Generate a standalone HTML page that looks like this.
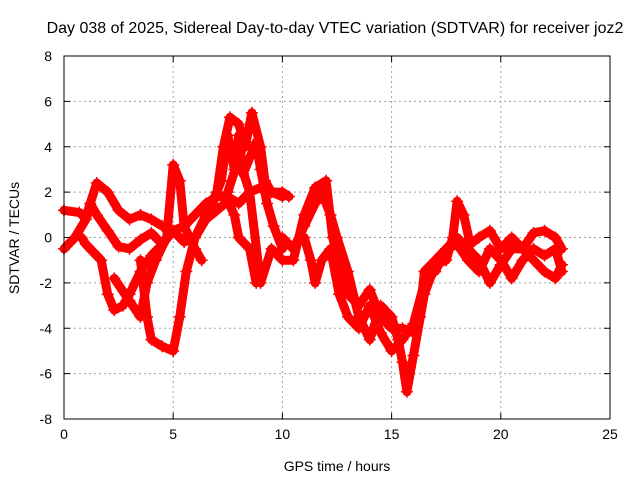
<!DOCTYPE html>
<html><head><meta charset="utf-8"><style>
body{margin:0;background:#fff}
svg{display:block;font-family:"Liberation Sans",sans-serif}
</style></head><body>
<svg id="chart" width="640" height="480">
<rect width="640" height="480" fill="#fff"/>
<text x="335" y="33" font-size="16" text-anchor="middle" fill="#000">Day 038 of 2025, Sidereal Day-to-day VTEC variation (SDTVAR) for receiver joz2</text>
<g id="grid"></g>
<g id="series"></g>
<rect x="64" y="56" width="546" height="363" fill="none" stroke="#000" stroke-width="1"/>
<g id="ticks"></g>
<text x="337" y="471" font-size="14" text-anchor="middle">GPS time / hours</text>
<text transform="translate(19,238) rotate(-90)" font-size="14" text-anchor="middle">SDTVAR / TECUs</text>
</svg>
<script>
const xTicks=[0,5,10,15,20,25];
const yTicks=[-8,-6,-4,-2,0,2,4,6,8];
const track1=[[0,-0.5],[0.5,0],[1,0.8],[1.2,1.5],[1.5,1],[2,0.3],[2.5,-0.4],[3,-0.5],[3.5,-0.1],[4,0.2],[4.5,-0.3],[5,0.3],[5.5,0.5],[6,1],[6.5,1.5],[7,1.8],[7.5,1.8],[8,1.5],[8.5,2],[9,2.2],[9.5,2],[10,1.8]];
const track2=[[0,1.2],[0.7,1.1],[1,0.9],[1.5,2.4],[2,2.0],[2.5,1.2],[3,0.8],[3.5,1],[4,0.8],[4.5,0.5],[5,0.3],[5.5,-0.2],[6,0],[6.5,0.8],[7,1.2],[7.5,1.6],[7.8,1.0],[8,0],[8.5,-0.5],[8.8,-2]];
const track3=[[3.5,-1],[3.8,-3.5],[4,-4.5],[4.5,-4.8],[5,-5],[5.3,-3.5],[5.6,-1.5],[6,0],[6.5,1],[7,2],[7.3,4],[7.6,5.3],[8,5],[8.3,4],[8.6,5.5],[9,4],[9.2,2.5],[9.5,2],[10,2],[10.3,1.8]];
const track4=[[0.8,0],[1,-0.3],[1.3,-0.6],[1.7,-1],[2,-2.5],[2.3,-3.2],[2.7,-3],[3,-2.5],[3.5,-1.5],[4,-0.8],[4.3,-0.5]];
const track5=[[2.3,-1.8],[3,-2.8],[3.5,-3.5],[3.8,-2],[4.2,-1],[4.7,0],[5,3.2],[5.3,2.5],[5.5,0.5],[6,-0.5],[6.3,-1]];
const track6=[[7.5,2],[8,3.5],[8.5,2],[9,-2],[9.5,-0.5],[10,-1],[10.5,-1],[11,1],[11.5,2.2],[12,2.5],[12.3,0],[12.7,-1.5],[13,-2.5],[13.5,-3],[14,-2.3],[14.5,-3.5],[15,-4],[15.5,-4],[16,-4.2],[16.3,-3.5],[16.5,-1.5],[17,-1],[17.5,-0.5],[18,0],[18.5,-0.5],[19,-1],[19.5,-2],[20,-1.2],[20.5,-0.5],[21,-0.5],[21.5,-1],[22,-1.5],[22.5,-1.8],[22.8,-1.2]];
const track7=[[10,0],[10.5,-0.5],[11,0.5],[11.5,1.5],[11.8,2],[12.2,1],[12.5,0],[13,-1.5],[13.5,-3.5],[14,-4.5],[14.5,-3],[15,-3.5],[15.3,-4.5],[15.5,-5.5],[15.7,-6.8],[16,-5.2],[16.5,-2.5],[17,-1.2],[17.5,-1],[17.8,0],[18,1.6],[18.3,1],[18.6,-0.3],[19,0],[19.5,0.3],[20,-0.5],[20.5,0],[21,-0.5],[21.5,0.2],[22,0.3],[22.5,0],[22.8,-0.5]];
const track8=[[17,-1.5],[17.5,-0.5],[18,-0.3],[18.5,-1],[19,-1.5],[19.5,-0.5],[20,-1],[20.5,-1.8],[21,-1],[21.5,-0.5],[22,-0.8],[22.5,-0.5],[22.8,-1.5]];
const track9=[[6.8,1.5],[7.2,2.5],[7.5,4.5],[7.8,3],[8,4.5],[8.2,2.8],[8.5,3.5],[8.8,4.2],[9,3],[9.3,1.5],[9.6,0.5],[10,-0.5]];
const track10=[[11,0],[11.3,-1],[11.5,-2],[11.8,-1],[12.2,-0.5],[12.6,-2.5],[13,-3.5],[13.5,-4],[14,-3],[14.5,-4.2],[15,-5],[15.5,-4.5],[16,-3.8],[16.5,-2]];
const tracks=[track1,track2,track3,track4,track5,track6,track7,track8,track9,track10];

const NS='http://www.w3.org/2000/svg';
const X0=64,X1=610,Y0=419,Y1=56;
const xs=t=>X0+(t-0)/(25-0)*(X1-X0);
const ys=v=>Y0-(v+8)/16*(Y0-Y1);
function mk(tag,attrs,parent){const e=document.createElementNS(NS,tag);for(const k in attrs)e.setAttribute(k,attrs[k]);parent.appendChild(e);return e;}
const grid=document.getElementById('grid'),ticks=document.getElementById('ticks'),ser=document.getElementById('series');
xTicks.forEach(t=>{const x=xs(t);
 if(t>0&&t<25){const g=mk('line',{x1:x,x2:x,y1:Y1,y2:Y0,stroke:'#a0a0a0','stroke-dasharray':'2,3'},grid);
 
 }
 mk('line',{x1:x,x2:x,y1:Y0,y2:Y0-6,stroke:'#000'},ticks);mk('line',{x1:x,x2:x,y1:Y1,y2:Y1+6,stroke:'#000'},ticks);
 const l=mk('text',{x:x,y:Y0+20,'font-size':14,'text-anchor':'middle'},ticks);l.textContent=t;
 
 });
yTicks.forEach(v=>{const y=ys(v);
 if(v>-8&&v<8){const g=mk('line',{x1:X0,x2:X1,y1:y,y2:y,stroke:'#a0a0a0','stroke-dasharray':'2,3'},grid);
 
 }
 mk('line',{x1:X0,x2:X0+6,y1:y,y2:y,stroke:'#000'},ticks);mk('line',{x1:X1,x2:X1-6,y1:y,y2:y,stroke:'#000'},ticks);
 const l=mk('text',{x:X0-12,y:y+5,'font-size':14,'text-anchor':'end'},ticks);l.textContent=v;
 
 });
tracks.forEach((tr,i)=>{
 const p=mk('polyline',{points:tr.map(d=>xs(d[0])+','+ys(d[1])).join(' '),fill:'none',stroke:'#f00','stroke-width':9,'stroke-linejoin':'round','stroke-linecap':'round'},ser);
 
 
 tr.forEach(d=>{const x=xs(d[0]),y=ys(d[1]);
  const m=mk('path',{d:`M${x-6},${y}H${x+6}M${x},${y-6}V${y+6}`,stroke:'#f00','stroke-width':1.5},ser);
  
  });
});
</script>
</body></html>
